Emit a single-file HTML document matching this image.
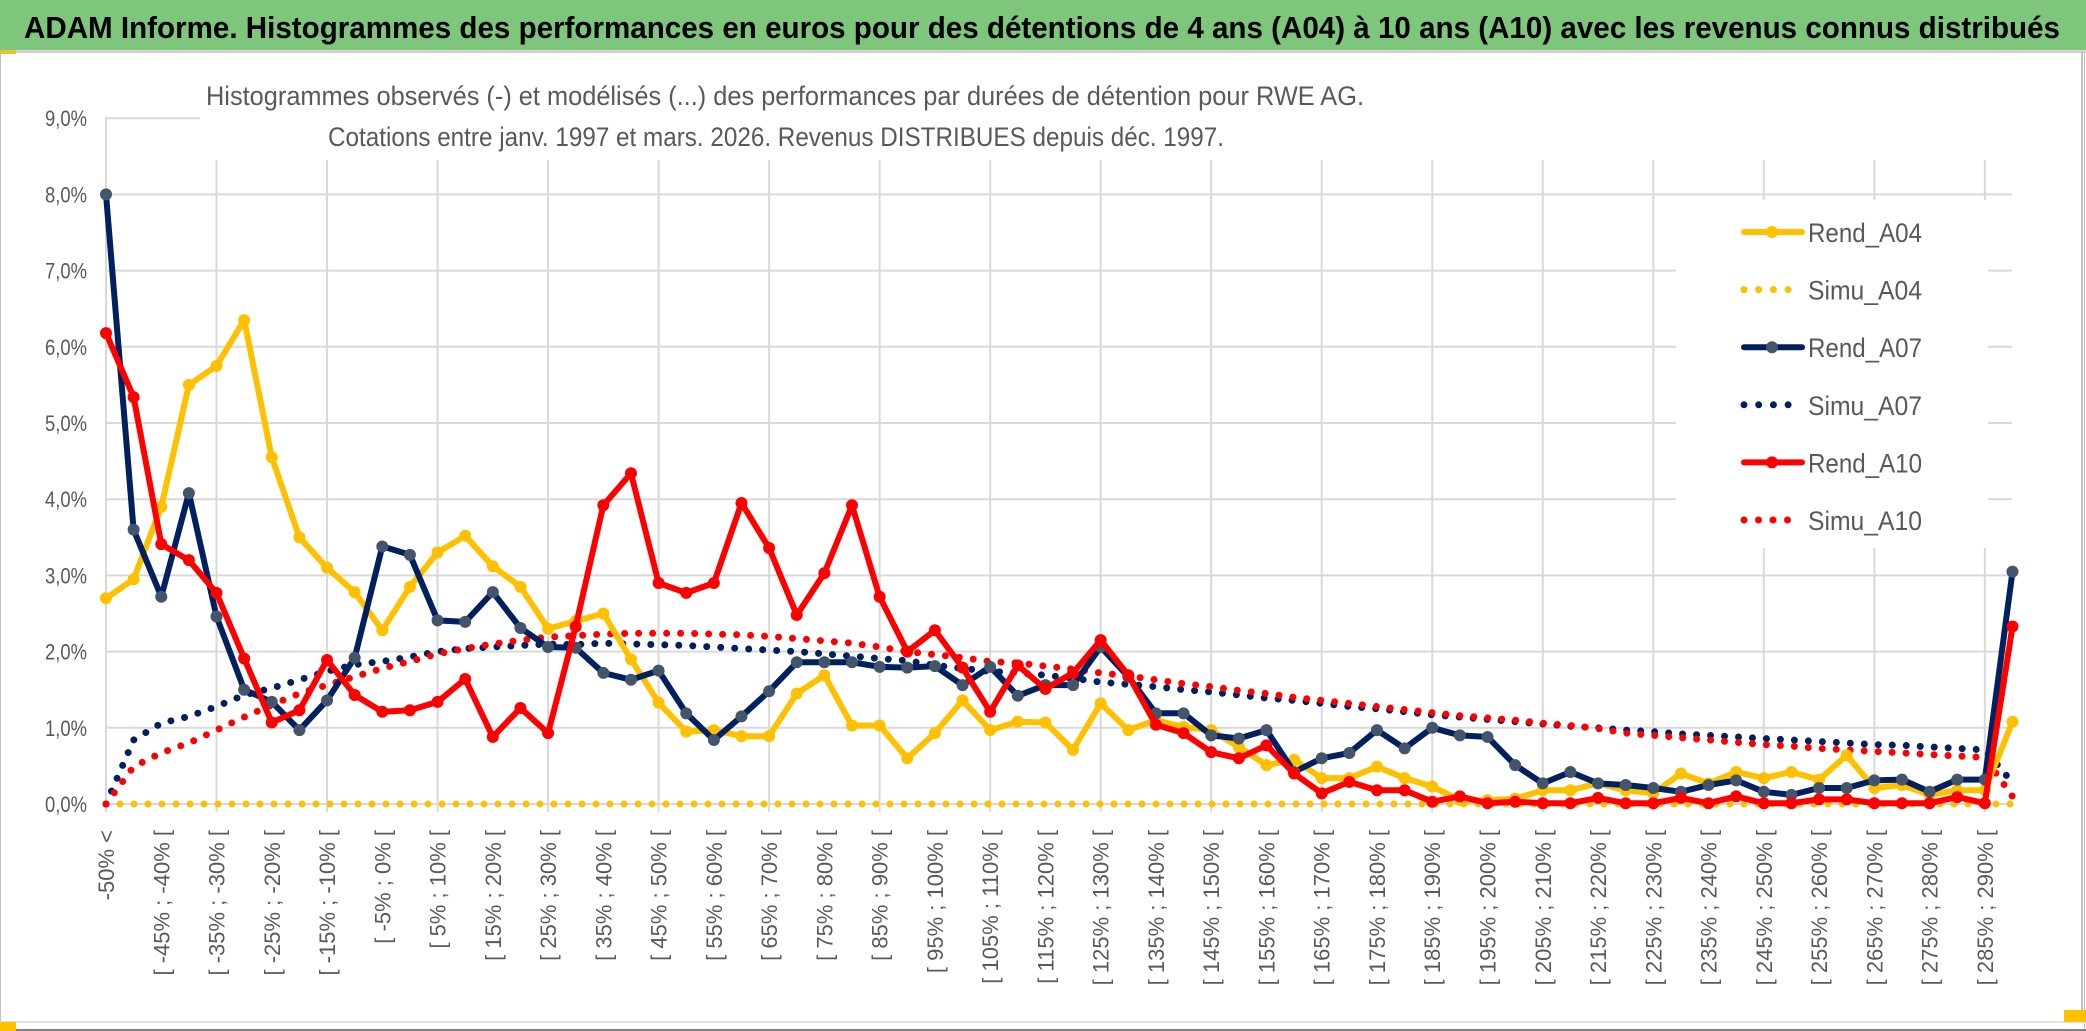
<!DOCTYPE html>
<html><head><meta charset="utf-8"><style>
html,body{margin:0;padding:0;background:#fff}
svg{display:block}
text{font-family:"Liberation Sans",sans-serif}
</style></head><body>
<svg id="chart" width="2086" height="1031" viewBox="0 0 2086 1031" xmlns="http://www.w3.org/2000/svg">
<rect x="0" y="0" width="2086" height="1031" fill="#fff"/>
<rect x="0" y="0" width="2086" height="50" fill="#7dc67b"/>
<line x1="0" y1="51.5" x2="2086" y2="51.5" stroke="#d9d9d9" stroke-width="3"/>
<rect x="0" y="50" width="16" height="4" fill="#ffc000"/>
<text x="24" y="38" font-size="31" font-weight="bold" fill="#000" textLength="2036" lengthAdjust="spacingAndGlyphs">ADAM Informe. Histogrammes des performances en euros pour des détentions de 4 ans (A04) à 10 ans (A10) avec les revenus connus distribués</text>
<rect x="0.5" y="52" width="2084" height="978" fill="none" stroke="#bfbfbf" stroke-width="1"/>
<line x1="0" y1="1022" x2="2086" y2="1022" stroke="#e0e0e0" stroke-width="2"/>
<line x1="0" y1="1030" x2="2086" y2="1030" stroke="#808080" stroke-width="2"/>
<line x1="2082" y1="52" x2="2082" y2="1022" stroke="#bfbfbf" stroke-width="2"/>
<rect x="0" y="1022" width="16" height="9" fill="#ffc000"/>
<rect x="2064" y="1010" width="22" height="12" fill="#ffc000"/>
<g id="grid"></g>
<rect x="200" y="60" width="1820" height="100" fill="#fff"/>
<line x1="106" y1="117" x2="106" y2="812" stroke="#d9d9d9" stroke-width="2"/>
<g id="plot"></g>
<text x="206" y="105" font-size="27" fill="#595959" textLength="1158" lengthAdjust="spacingAndGlyphs">Histogrammes observés (-) et modélisés (...) des performances par durées de détention pour RWE AG.</text>
<text x="328" y="146" font-size="27" fill="#595959" textLength="896" lengthAdjust="spacingAndGlyphs">Cotations entre janv. 1997 et mars. 2026. Revenus DISTRIBUES depuis déc. 1997.</text>
<g id="legend"></g>
</svg>
<script>
const categories = ["-50% <"];
const catStarts = [-50,-45,-40,-35,-30,-25,-20,-15,-10,-5,0,5,10,15,20,25,30,35,40,45,50,55,60,65,70,75,80,85,90,95,100,105,110,115,120,125,130,135,140,145,150,155,160,165,170,175,180,185,190,195,200,205,210,215,220,225,230,235,240,245,250,255,260,265,270,275,280,285,290];
catStarts.forEach(a => categories.push("[ " + a + "% ; " + (a + 5) + "% ["));
const yTicks = [0,1,2,3,4,5,6,7,8,9];
const yTickLabels = ["0,0%","1,0%","2,0%","3,0%","4,0%","5,0%","6,0%","7,0%","8,0%","9,0%"];
const rendA04 = [2.7,2.95,3.9,5.5,5.75,6.35,4.55,3.5,3.1,2.78, 2.28,2.85,3.3,3.52,3.12,2.85,2.3,2.4,2.5,1.9, 1.33,0.95,0.97,0.89,0.89,1.45,1.69,1.03,1.03,0.6, 0.93,1.36,0.97,1.08,1.07,0.71,1.32,0.97,1.1,1.01, 0.97,0.75,0.51,0.58,0.34,0.34,0.49,0.34,0.23,0.05, 0.05,0.07,0.18,0.18,0.27,0.18,0.14,0.4,0.27,0.42, 0.34,0.42,0.32,0.64,0.21,0.25,0.12,0.18,0.18,1.08];
const simuA04 = [0,0,0,0,0,0,0,0,0,0, 0,0,0,0,0,0,0,0,0,0, 0,0,0,0,0,0,0,0,0,0, 0,0,0,0,0,0,0,0,0,0, 0,0,0,0,0,0,0,0,0,0, 0,0,0,0,0,0,0,0,0,0, 0,0,0,0,0,0,0,0,0,0];
const rendA07 = [8.0,3.6,2.72,4.08,2.46,1.5,1.34,0.97,1.36,1.92, 3.38,3.27,2.41,2.39,2.78,2.31,2.06,2.05,1.72,1.63, 1.75,1.19,0.84,1.15,1.48,1.86,1.86,1.86,1.8,1.79, 1.81,1.56,1.8,1.42,1.56,1.56,2.06,1.67,1.19,1.19, 0.9,0.86,0.97,0.42,0.6,0.67,0.97,0.73,1.0,0.9, 0.88,0.51,0.27,0.42,0.27,0.25,0.21,0.16,0.25,0.31, 0.16,0.12,0.21,0.21,0.31,0.32,0.16,0.32,0.32,3.05];
const simuA07 = [0,0.84,1.06,1.15,1.28,1.43,1.52,1.63,1.74,1.83, 1.87,1.93,2.0,2.04,2.06,2.08,2.1,2.09,2.11,2.1, 2.09,2.08,2.06,2.04,2.02,2.0,1.97,1.94,1.91,1.88, 1.82,1.78,1.74,1.72,1.69,1.65,1.6,1.57,1.54,1.5, 1.47,1.43,1.39,1.36,1.32,1.28,1.25,1.21,1.17,1.14, 1.11,1.08,1.05,1.02,1.0,0.97,0.95,0.92,0.9,0.88, 0.86,0.84,0.82,0.8,0.78,0.77,0.75,0.73,0.71,0.28];
const rendA10 = [6.18,5.34,3.41,3.2,2.77,1.91,1.07,1.23,1.89,1.43, 1.21,1.23,1.34,1.64,0.88,1.26,0.93,2.33,3.92,4.34, 2.9,2.77,2.9,3.95,3.36,2.48,3.03,3.92,2.72,2.0, 2.28,1.79,1.21,1.82,1.51,1.72,2.15,1.69,1.04,0.93, 0.68,0.6,0.77,0.4,0.14,0.29,0.18,0.18,0.03,0.1, 0.01,0.03,0.01,0.01,0.08,0.01,0.01,0.08,0.01,0.1, 0.01,0.01,0.06,0.06,0.01,0.01,0.01,0.09,0.01,2.33];
const simuA10 = [0,0.49,0.67,0.8,0.97,1.14,1.3,1.45,1.56,1.67, 1.78,1.87,1.97,2.04,2.1,2.15,2.19,2.21,2.23,2.24, 2.24,2.24,2.23,2.22,2.2,2.17,2.14,2.11,2.06,2.0, 1.96,1.92,1.87,1.85,1.81,1.77,1.72,1.68,1.63,1.58, 1.54,1.49,1.45,1.4,1.36,1.32,1.28,1.24,1.2,1.16, 1.13,1.1,1.06,1.03,0.99,0.93,0.9,0.87,0.84,0.81, 0.78,0.76,0.73,0.71,0.69,0.67,0.65,0.63,0.61,0.1];

const NS = "http://www.w3.org/2000/svg";
const X0 = 106, STEP = 27.63, Y0 = 804, PPU = 76.2, XR = 2012;
function xScale(i){ return X0 + i * STEP; }
function yScale(v){ return Y0 - v * PPU; }
function mk(tag, attrs, parent){
  const e = document.createElementNS(NS, tag);
  for (const k in attrs) e.setAttribute(k, attrs[k]);
  parent.appendChild(e);
  return e;
}
const grid = document.getElementById("grid");
const plot = document.getElementById("plot");
const svg = document.getElementById("chart");

yTicks.forEach((t, k) => {
  const ln = mk("line", {x1: X0, x2: XR, y1: yScale(t), y2: yScale(t), stroke: "#d9d9d9", "stroke-width": 2}, grid);
  
  
  const tx = mk("text", {x: 87, y: yScale(t) + 8, "font-size": 22, fill: "#595959", "text-anchor": "end", textLength: 42, lengthAdjust: "spacingAndGlyphs"}, svg);
  tx.textContent = yTickLabels[k];
  
  
});
categories.forEach((c, i) => {
  const x = xScale(i);
  if (i % 4 === 0) {
    const ln = mk("line", {x1: x, x2: x, y1: 160, y2: 812, stroke: "#d9d9d9", "stroke-width": 2}, grid);
    
    
  }
  if (i % 2 === 0) {
    const tx = mk("text", {x: 0, y: 0, "font-size": 22, fill: "#595959", "text-anchor": "end", transform: "translate(" + (x + 8) + ",830) rotate(-90)"}, svg);
    tx.textContent = c;
    
    
  }
});

function pathD(vals){ return vals.map((v, i) => (i ? "L" : "M") + xScale(i).toFixed(1) + " " + yScale(v).toFixed(1)).join(" "); }
function dotted(vals, color, name){
  const p = mk("path", {d: pathD(vals), fill: "none", stroke: color, "stroke-width": 7, "stroke-linecap": "round", "stroke-dasharray": "0 14"}, plot);
  
  
}
function solid(vals, color, mcolor, name){
  const p = mk("path", {d: pathD(vals), fill: "none", stroke: color, "stroke-width": 6, "stroke-linejoin": "round"}, plot);
  
  
  vals.forEach((v, i) => {
    const c = mk("circle", {cx: xScale(i), cy: yScale(v), r: 6, fill: mcolor}, plot);
    
    
  });
}
dotted(simuA04, "#ffc000", "simu-a04-line");
dotted(simuA07, "#002060", "simu-a07-line");
dotted(simuA10, "#ff0000", "simu-a10-line");
solid(rendA04, "#ffc000", "#ffc000", "rend-a04-line");
solid(rendA07, "#002060", "#44546a", "rend-a07-line");
solid(rendA10, "#ff0000", "#ff0000", "rend-a10-line");

const legend = document.getElementById("legend");
mk("rect", {x: 1676, y: 200, width: 312, height: 348, fill: "#fff"}, legend);
const legendNames = ["Rend_A04","Simu_A04","Rend_A07","Simu_A07","Rend_A10","Simu_A10"];
const legendColors = ["#ffc000","#ffc000","#002060","#002060","#ff0000","#ff0000"];
const legendMarkers = ["#ffc000",null,"#44546a",null,"#ff0000",null];
legendNames.forEach((n, k) => {
  const y = 232 + k * 57.6;
  const g = mk("g", {}, legend);
  
  
  if (legendMarkers[k]) {
    mk("line", {x1: 1744, x2: 1802, y1: y, y2: y, stroke: legendColors[k], "stroke-width": 6, "stroke-linecap": "round"}, g);
    mk("circle", {cx: 1772, cy: y, r: 6, fill: legendMarkers[k]}, g);
  } else {
    const end = k === 5 ? 1802 : 1790;
    mk("line", {x1: 1744, x2: end, y1: y, y2: y, stroke: legendColors[k], "stroke-width": 7, "stroke-linecap": "round", "stroke-dasharray": k === 5 ? "0 14.5" : "0 14.7"}, g);
  }
  const t = mk("text", {x: 1808, y: y + 10, "font-size": 27, fill: "#595959", textLength: 114, lengthAdjust: "spacingAndGlyphs"}, g);
  t.textContent = n;
});
</script>
</body></html>
